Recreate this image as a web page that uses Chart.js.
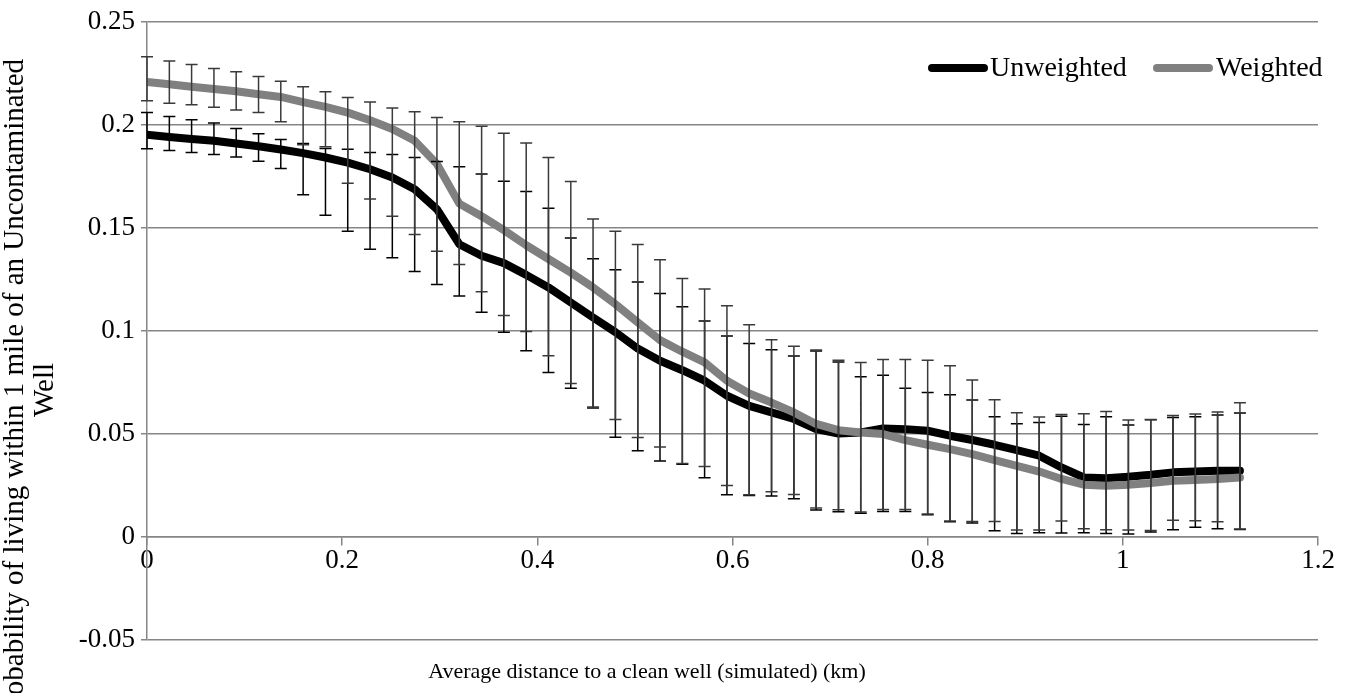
<!DOCTYPE html>
<html>
<head>
<meta charset="utf-8">
<script src="https://cdn.jsdelivr.net/npm/chart.js@4.4.1/dist/chart.umd.min.js"></script>
<style>
  html, body { margin: 0; padding: 0; background: #fff; overflow: hidden; }
  #wrap { width: 1349px; height: 693px; }
</style>
</head>
<body>
<div id="wrap"><canvas id="chart" width="1349" height="693"></canvas></div>
<script>
// average distance to a clean well (km)
const distance = [0, 0.0229, 0.0457, 0.0686, 0.0914, 0.1143, 0.1371, 0.16, 0.1829, 0.2057,
  0.2286, 0.2514, 0.2743, 0.2971, 0.32, 0.3429, 0.3657, 0.3886, 0.4114, 0.4343,
  0.4571, 0.48, 0.5029, 0.5257, 0.5486, 0.5714, 0.5943, 0.6171, 0.64, 0.6629,
  0.6857, 0.7086, 0.7314, 0.7543, 0.7771, 0.8, 0.8229, 0.8457, 0.8686, 0.8914,
  0.9143, 0.9371, 0.96, 0.9829, 1.0057, 1.0286, 1.0514, 1.0743, 1.0971, 1.12];

const unweighted = [0.1953, 0.1943, 0.1933, 0.1924, 0.1911, 0.1898, 0.1882, 0.1864, 0.1843, 0.1818,
  0.1786, 0.1746, 0.1689, 0.1592, 0.1422, 0.1366, 0.1330, 0.1273, 0.1212, 0.1139,
  0.1066, 0.0995, 0.0915, 0.0856, 0.0810, 0.0759, 0.0686, 0.0637, 0.0605, 0.0573,
  0.0524, 0.0503, 0.0508, 0.0527, 0.0524, 0.0516, 0.0492, 0.0471, 0.0448, 0.0422,
  0.0395, 0.0338, 0.0289, 0.0285, 0.0293, 0.0302, 0.0314, 0.0318, 0.0322, 0.0322];

const weighted = [0.2210, 0.2199, 0.2187, 0.2176, 0.2165, 0.2150, 0.2137, 0.2112, 0.2089, 0.2061,
  0.2024, 0.1981, 0.1924, 0.1811, 0.1619, 0.1558, 0.1490, 0.1417, 0.1350, 0.1284,
  0.1212, 0.1131, 0.1042, 0.0956, 0.0900, 0.0848, 0.0759, 0.0697, 0.0653, 0.0605,
  0.0549, 0.0519, 0.0508, 0.0500, 0.0471, 0.0448, 0.0427, 0.0403, 0.0374, 0.0346,
  0.0318, 0.0282, 0.0254, 0.0249, 0.0254, 0.0262, 0.0273, 0.0277, 0.0282, 0.0289];

// error bar ends
const unweightedHigh = [0.2061, 0.2042, 0.2026, 0.2011, 0.1984, 0.1958, 0.1930, 0.1911, 0.1887, 0.1883,
  0.1867, 0.1857, 0.1843, 0.1823, 0.1798, 0.1763, 0.1728, 0.1678, 0.1597, 0.1452,
  0.1351, 0.1298, 0.1238, 0.1183, 0.1118, 0.1049, 0.0976, 0.0940, 0.0909, 0.0879,
  0.0903, 0.0850, 0.0778, 0.0786, 0.0723, 0.0702, 0.0691, 0.0665, 0.0584, 0.0550,
  0.0556, 0.0587, 0.0547, 0.0584, 0.0544, 0.0569, 0.0581, 0.0584, 0.0592, 0.0602];

const unweightedLow = [0.1886, 0.1877, 0.1867, 0.1857, 0.1845, 0.1825, 0.1789, 0.1662, 0.1563, 0.1485,
  0.1398, 0.1356, 0.1289, 0.1226, 0.1171, 0.1091, 0.0995, 0.0904, 0.0799, 0.0723,
  0.0626, 0.0485, 0.0419, 0.0369, 0.0354, 0.0288, 0.0205, 0.0202, 0.0199, 0.0186,
  0.0131, 0.0123, 0.0115, 0.0124, 0.0124, 0.0108, 0.0074, 0.0068, 0.0031, 0.0017,
  0.0021, 0.0019, 0.0021, 0.0017, 0.0015, 0.0024, 0.0035, 0.0047, 0.0040, 0.0037];

const weightedHigh = [0.2332, 0.2312, 0.2294, 0.2275, 0.2259, 0.2236, 0.2213, 0.2187, 0.2162, 0.2134,
  0.2113, 0.2083, 0.2065, 0.2037, 0.2017, 0.1995, 0.1961, 0.1914, 0.1843, 0.1727,
  0.1544, 0.1485, 0.1420, 0.1346, 0.1255, 0.1204, 0.1123, 0.1031, 0.0958, 0.0927,
  0.0908, 0.0859, 0.0848, 0.0862, 0.0862, 0.0859, 0.0832, 0.0762, 0.0667, 0.0603,
  0.0583, 0.0595, 0.0599, 0.0610, 0.0568, 0.0571, 0.0590, 0.0597, 0.0607, 0.0652];

const weightedLow = [0.2118, 0.2107, 0.2099, 0.2087, 0.2074, 0.2061, 0.2016, 0.1905, 0.1895, 0.1718,
  0.1641, 0.1558, 0.1469, 0.1388, 0.1323, 0.1191, 0.1076, 0.0998, 0.0880, 0.0745,
  0.0631, 0.0571, 0.0483, 0.0437, 0.0357, 0.0343, 0.0250, 0.0205, 0.0220, 0.0207,
  0.0141, 0.0133, 0.0121, 0.0134, 0.0134, 0.0112, 0.0078, 0.0076, 0.0076, 0.0034,
  0.0034, 0.0078, 0.0040, 0.0035, 0.0034, 0.0032, 0.0081, 0.0079, 0.0074, 0.0039];

const xTicks = [0, 0.2, 0.4, 0.6, 0.8, 1, 1.2];
const yTicks = [-0.05, 0, 0.05, 0.1, 0.15, 0.2, 0.25];

const FONT = "'Liberation Serif', 'Times New Roman', serif";
const gridGray = '#868686';

const toPoints = vals => distance.map((d, i) => ({ x: d, y: vals[i] }));
const fmt = v => String(Number(v.toFixed(2)));

const errorBars = {
    id: 'errorBars',
    afterDatasetsDraw(chart) {
        const { ctx, scales: { x, y } } = chart;
        const cap = 6;
        ctx.save();
        ctx.lineWidth = 1.5;
        [[unweightedLow, unweightedHigh, '#000000'], [weightedLow, weightedHigh, '#3a3a3a']].forEach(([lo, hi, color]) => {
            ctx.strokeStyle = color;
            ctx.beginPath();
            distance.forEach((d, i) => {
                const px = x.getPixelForValue(d);
                const pLo = y.getPixelForValue(lo[i]);
                const pHi = y.getPixelForValue(hi[i]);
                ctx.moveTo(px, pLo); ctx.lineTo(px, pHi);
                ctx.moveTo(px - cap, pLo); ctx.lineTo(px + cap, pLo);
                ctx.moveTo(px - cap, pHi); ctx.lineTo(px + cap, pHi);
            });
            ctx.stroke();
        });
        ctx.restore();
    }
};

const titlesAndLegend = {
    id: 'titlesAndLegend',
    afterDraw(chart) {
        const { ctx } = chart;
        ctx.save();
        ctx.fillStyle = '#000';

        // x axis title
        ctx.font = `22px ${FONT}`;
        ctx.textAlign = 'center';
        ctx.textBaseline = 'middle';
        ctx.fillText('Average distance to a clean well (simulated) (km)', 647, 672);

        // y axis title, two lines
        ctx.save();
        ctx.translate(0, 390);
        ctx.rotate(-Math.PI / 2);
        ctx.font = `29px ${FONT}`;
        ctx.fillText('Probability of living within 1 mile of an Uncontaminated', 0, 15);
        ctx.fillText('Well', 0, 45);
        ctx.restore();

        // legend
        const items = [
            { label: 'Unweighted', color: '#000000', x0: 932, x1: 984, tx: 990 },
            { label: 'Weighted', color: '#808080', x0: 1157, x1: 1209, tx: 1216 }
        ];
        ctx.font = `28px ${FONT}`;
        ctx.textAlign = 'left';
        items.forEach(it => {
            ctx.strokeStyle = it.color;
            ctx.lineWidth = 8;
            ctx.lineCap = 'round';
            ctx.beginPath();
            ctx.moveTo(it.x0, 68); ctx.lineTo(it.x1, 68);
            ctx.stroke();
            ctx.fillText(it.label, it.tx, 69);
        });
        ctx.restore();
    }
};

new Chart(document.getElementById('chart'), {
    type: 'scatter',
    data: {
        datasets: [
            {
                label: 'Unweighted',
                data: toPoints(unweighted),
                showLine: true,
                borderColor: '#000000',
                borderWidth: 8,
                pointRadius: 0,
                tension: 0,
                borderCapStyle: 'round',
                borderJoinStyle: 'round',
                order: 2
            },
            {
                label: 'Weighted',
                data: toPoints(weighted),
                showLine: true,
                borderColor: '#808080',
                borderWidth: 8,
                pointRadius: 0,
                tension: 0,
                borderCapStyle: 'round',
                borderJoinStyle: 'round',
                order: 1
            }
        ]
    },
    options: {
        responsive: false,
        animation: false,
        layout: { padding: { left: 0, top: 21, right: 31, bottom: 53 } },
        plugins: {
            legend: { display: false },
            tooltip: { enabled: false }
        },
        scales: {
            x: {
                type: 'linear',
                position: { y: 0 },
                min: 0,
                max: 1.2,
                afterFit: s => { s.height = 0; },
                afterBuildTicks: s => { s.ticks = xTicks.map(v => ({ value: v })); },
                ticks: {
                    color: '#000',
                    font: { family: FONT, size: 27 },
                    padding: 0,
                    maxRotation: 0,
                    callback: v => fmt(v)
                },
                grid: { drawOnChartArea: false, drawTicks: true, tickLength: 8, color: gridGray, lineWidth: 1.5 },
                border: { display: true, color: gridGray, width: 1.5 }
            },
            y: {
                type: 'linear',
                min: -0.05,
                max: 0.25,
                afterFit: s => { s.width = 147; },
                afterBuildTicks: s => { s.ticks = yTicks.map(v => ({ value: v })); },
                ticks: {
                    color: '#000',
                    font: { family: FONT, size: 27 },
                    padding: 6,
                    callback: v => fmt(v)
                },
                grid: { color: gridGray, lineWidth: 1.5, tickLength: 6 },
                border: { display: true, color: gridGray, width: 1.5 }
            }
        }
    },
    plugins: [errorBars, titlesAndLegend]
});
</script>
</body>
</html>
